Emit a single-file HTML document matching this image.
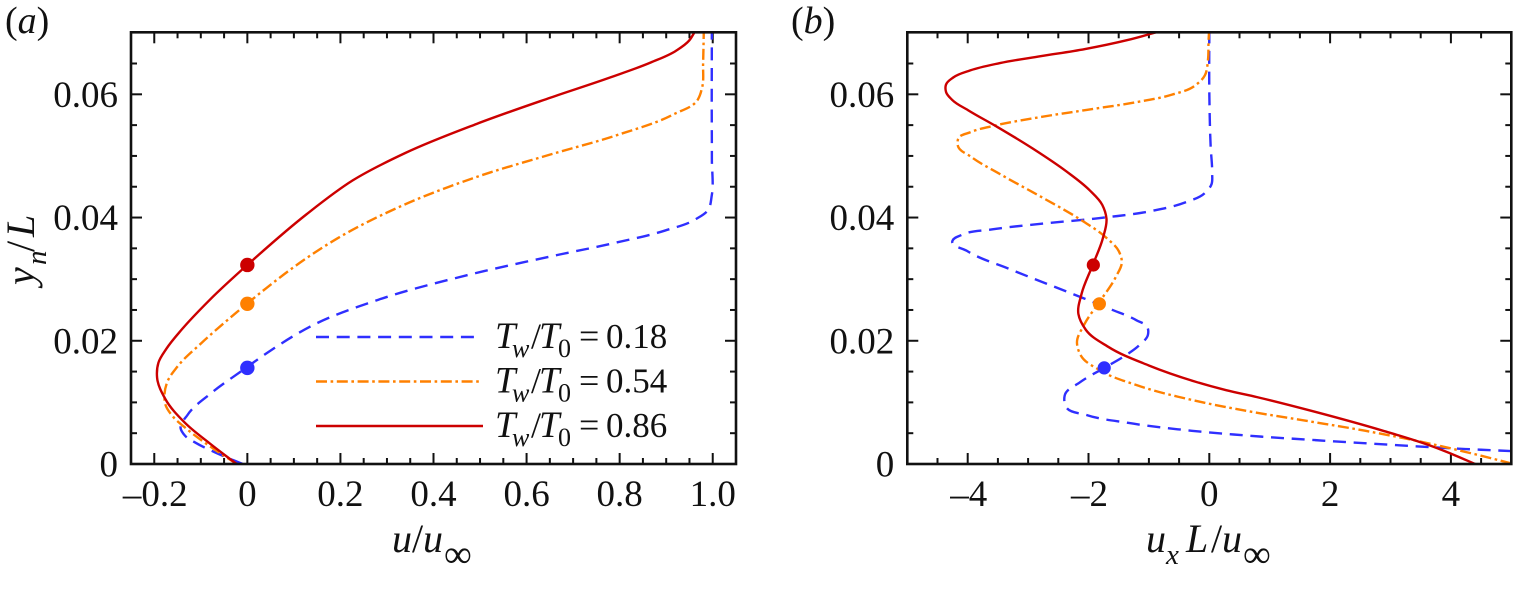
<!DOCTYPE html>
<html lang="en">
<head>
<meta charset="utf-8">
<title>Velocity profiles</title>
<style>
html,body{margin:0;padding:0;background:#fff;width:1513px;height:593px;overflow:hidden}
svg{display:block;font-family:"Liberation Serif","DejaVu Serif",serif;fill:#111}
text{fill:#111}
.i{font-style:italic}
</style>
</head>
<body>
<svg id="fig" xmlns="http://www.w3.org/2000/svg" width="1513" height="593" viewBox="0 0 1513 593">
  <defs>
    <clipPath id="clipA"><rect x="131" y="32" width="605" height="432"/></clipPath>
    <clipPath id="clipB"><rect x="907" y="32" width="604" height="432"/></clipPath>
  </defs>
  <g id="panelA"></g>
  <g id="panelB"></g>

  <text x="5" y="33" font-size="38">(<tspan class="i">a</tspan>)</text>
  <text x="791" y="33" font-size="38">(<tspan class="i">b</tspan>)</text>

  <g font-size="40" class="i">
    <text transform="translate(34,285) rotate(-90)">y</text>
    <text transform="translate(46,265) rotate(-90)" font-size="29">n</text>
    <text transform="translate(34,252) rotate(-90)" style="font-style:normal">/</text>
    <text transform="translate(34,237) rotate(-90)">L</text>
  </g>
  <g font-size="40">
    <text class="i" x="392" y="552">u</text>
    <text x="412" y="552">/</text>
    <text class="i" x="423" y="552">u</text>
    <text id="infA" x="444" y="567" font-size="39">∞</text>
  </g>
  <g font-size="40">
    <text class="i" x="1146" y="552">u</text>
    <text class="i" x="1166" y="564" font-size="29">x</text>
    <text class="i" x="1186" y="552">L</text>
    <text x="1211" y="552">/</text>
    <text class="i" x="1222" y="552">u</text>
    <text id="infB" x="1243" y="567" font-size="39">∞</text>
  </g>

  <g id="legend"></g>
</svg>
<script>
// ---- shared tick data ----
const yMajorTicks = [0, 0.02, 0.04, 0.06];
const yMajorLabels = ['0', '0.02', '0.04', '0.06'];
const yLimits = [0, 0.07];
const yMinorStep = 0.005;

// ---- panel (a) ----
const aXLimits = [-0.25, 1.05];
const aXMajorTicks = [-0.2, 0, 0.2, 0.4, 0.6, 0.8, 1.0];
const aXMajorLabels = ['–0.2', '0', '0.2', '0.4', '0.6', '0.8', '1.0'];
const aXMinorStep = 0.05;

const aBlueU = [-0.01,-0.074,-0.109,-0.133,-0.14,-0.133,-0.081,0,0.048,0.141,0.257,0.501,0.645,0.788,0.903,0.961,0.99,0.997,0.997,0.998,0.998,0.998];
const aBlueY = [0,0.002,0.0034,0.0047,0.0058,0.0077,0.0115,0.0156,0.018,0.0226,0.0263,0.0311,0.0336,0.0358,0.038,0.0397,0.0416,0.0437,0.0483,0.0592,0.069,0.071];
const aOrangeU = [-0.023,-0.081,-0.131,-0.163,-0.173,-0.178,-0.171,-0.145,-0.117,0,0.027,0.113,0.185,0.329,0.501,0.645,0.788,0.932,0.961,0.975,0.979,0.981];
const aOrangeY = [0,0.0028,0.0058,0.008,0.0093,0.0115,0.0134,0.0161,0.0185,0.026,0.0277,0.0325,0.0362,0.0421,0.0467,0.0502,0.0531,0.057,0.0594,0.061,0.0646,0.071];
const aRedU = [-0.023,-0.081,-0.131,-0.181,-0.192,-0.189,-0.174,-0.139,-0.081,0,0.149,0.221,0.329,0.501,0.645,0.788,0.86,0.925,0.947,0.964];
const aRedY = [0,0.0036,0.0063,0.0107,0.0142,0.0164,0.0187,0.0218,0.0267,0.0323,0.0418,0.0456,0.0502,0.0555,0.0592,0.063,0.0649,0.0673,0.0685,0.0705];
const aMarkerU = [0, 0, 0];
const aMarkerY = [0.0156, 0.026, 0.0323];

// ---- panel (b) ----
const bXLimits = [-5, 5];
const bXMajorTicks = [-4, -2, 0, 2, 4];
const bXMajorLabels = ['–4', '–2', '0', '2', '4'];
const bXMinorStep = 0.5;

const bBlueU = [5,4.2,3.1,1.72,0.51,-0.37,-1.37,-2.03,-2.36,-2.41,-2.14,-1.74,-1.42,-1.15,-1.02,-1.04,-1.2,-1.64,-2.31,-3.3,-4.07,-4.21,-4.07,-3.63,-2.75,-1.7,-1.04,-0.37,-0.07,0.01,0.06,0.01,0,0];
const bBlueY = [0.0021,0.0024,0.0031,0.0039,0.0047,0.0055,0.0067,0.008,0.0093,0.0111,0.0132,0.0156,0.0174,0.0193,0.0211,0.0221,0.0234,0.025,0.0279,0.0316,0.0348,0.0361,0.0372,0.038,0.0391,0.04,0.0409,0.0425,0.0441,0.0454,0.0478,0.0506,0.06,0.071];
const bOrangeU = [5,4.48,3.65,2.55,1.45,0.67,-0.15,-1.26,-1.81,-2.11,-2.18,-2.09,-1.82,-1.51,-1.47,-1.51,-1.7,-2.09,-2.8,-3.47,-3.96,-4.15,-4.14,-3.96,-3.52,-2.92,-1.98,-1.26,-0.6,-0.26,-0.07,-0.03,-0.02,0];
const bOrangeY = [0.0001,0.0013,0.0034,0.0055,0.0072,0.0086,0.0101,0.0128,0.0153,0.0177,0.0196,0.0226,0.026,0.031,0.0326,0.0345,0.0367,0.0394,0.0435,0.047,0.05,0.0516,0.0528,0.0538,0.055,0.0561,0.0576,0.0586,0.06,0.0613,0.0632,0.0652,0.0689,0.071];
const bRedU = [4.4,4.04,3.65,2.99,1.67,0.67,0.34,-0.15,-1.04,-1.7,-2.03,-2.15,-2.14,-1.92,-1.75,-1.71,-1.78,-1.98,-2.36,-2.91,-3.52,-4.02,-4.24,-4.35,-4.35,-4.24,-3.96,-3.47,-2.8,-2.03,-1.37,-0.72];
const bRedY = [0,0.0014,0.0031,0.005,0.0088,0.0111,0.0119,0.0131,0.0161,0.0191,0.0218,0.0245,0.0272,0.0323,0.037,0.0397,0.0421,0.0443,0.0475,0.0511,0.0548,0.0576,0.0589,0.0604,0.0616,0.0627,0.0638,0.0652,0.0661,0.0674,0.0687,0.0705];
const bMarkerU = [-1.74, -1.82, -1.92];
const bMarkerY = [0.0156, 0.026, 0.0323];

// ---- legend ----
const legendValues = ['0.18', '0.54', '0.86'];

// ---- styles ----
const BLUE = '#2f2fff', ORANGE = '#ff8000', RED = '#cc0000';
const DASH_BLUE = '13 7.7', DASH_ORANGE = '11 3.6 2.6 3.6';
const NS = 'http://www.w3.org/2000/svg';

function mk(tag, attrs, parent) {
  const el = document.createElementNS(NS, tag);
  for (const k in attrs) el.setAttribute(k, attrs[k]);
  parent.appendChild(el);
  return el;
}

// shrink-free noise removal (Taubin): a smoothing step followed by an inflating step
function relaxStep(pts, w) {
  return pts.map((p, i) => {
    if (i === 0 || i === pts.length - 1) return p;
    const a = pts[i - 1], b = pts[i + 1];
    return [p[0] + w * (0.5 * (a[0] + b[0]) - p[0]), p[1] + w * (0.5 * (a[1] + b[1]) - p[1])];
  });
}
function relax(pts) {
  let cur = pts;
  for (let it = 0; it < 2; it++) {
    cur = relaxStep(cur, 0.5);
    cur = relaxStep(cur, -0.53);
  }
  return cur;
}

function smoothPath(raw) {
  const pts = relax(raw);
  const n = pts.length;
  const tan = pts.map((p, i) => {
    if (i === 0 || i === n - 1) {
      const a = pts[i === 0 ? 0 : n - 2], b = pts[i === 0 ? 1 : n - 1];
      const l = Math.hypot(b[0] - a[0], b[1] - a[1]) || 1;
      return [(b[0] - a[0]) / l, (b[1] - a[1]) / l];
    }
    const a = pts[i - 1], b = pts[i + 1];
    const d1 = Math.hypot(p[0] - a[0], p[1] - a[1]) || 1, d2 = Math.hypot(b[0] - p[0], b[1] - p[1]) || 1;
    const tx = ((p[0] - a[0]) / d1) * d2 + ((b[0] - p[0]) / d2) * d1;
    const ty = ((p[1] - a[1]) / d1) * d2 + ((b[1] - p[1]) / d2) * d1;
    const l = Math.hypot(tx, ty) || 1;
    return [tx / l, ty / l];
  });
  let d = 'M' + pts[0][0].toFixed(2) + ' ' + pts[0][1].toFixed(2);
  for (let i = 0; i < n - 1; i++) {
    const p = pts[i], q = pts[i + 1], c = Math.hypot(q[0] - p[0], q[1] - p[1]) / 3;
    d += 'C' + (p[0] + tan[i][0] * c).toFixed(2) + ' ' + (p[1] + tan[i][1] * c).toFixed(2) + ' ' +
         (q[0] - tan[i + 1][0] * c).toFixed(2) + ' ' + (q[1] - tan[i + 1][1] * c).toFixed(2) + ' ' +
         q[0].toFixed(2) + ' ' + q[1].toFixed(2);
  }
  return d;
}

function drawPanel(cfg) {
  const g = document.getElementById(cfg.id);
  const L = cfg.box[0], R = cfg.box[1], T = 32.7, B = 464, FT = 32.3;
  const sx = v => L + (v - cfg.xLim[0]) / (cfg.xLim[1] - cfg.xLim[0]) * (R - L);
  const sy = v => B - (v - yLimits[0]) / (yLimits[1] - yLimits[0]) * (B - T);
  const tickStyle = { stroke: '#111', 'stroke-width': 2 };

  function tick(x1, y1, x2, y2, name) {
    const t = mk('line', Object.assign({ x1, y1, x2, y2 }, tickStyle), g);
    
    
  }
  const isMajor = (v, list) => list.some(m => Math.abs(m - v) < 1e-6);

  // x ticks (bottom and top), inward
  const xCount = Math.round((cfg.xLim[1] - cfg.xLim[0]) / cfg.xMinor);
  for (let i = 0; i <= xCount; i++) {
    const v = cfg.xLim[0] + i * cfg.xMinor;
    if (i === 0 || i === xCount) continue;
    const len = isMajor(v, cfg.xMajor) ? 11 : 6;
    tick(sx(v), B, sx(v), B - len, 'x-tick-bottom');
    tick(sx(v), FT, sx(v), FT + len, 'x-tick-top');
  }
  // y ticks (left and right), inward
  const yCount = Math.round((yLimits[1] - yLimits[0]) / yMinorStep);
  for (let i = 1; i <= yCount; i++) {
    const v = i * yMinorStep;
    if (i === yCount) continue;
    const len = isMajor(v, yMajorTicks) ? 11 : 6;
    tick(L, sy(v), L + len, sy(v), 'y-tick-left');
    tick(R, sy(v), R - len, sy(v), 'y-tick-right');
  }
  // tick labels
  cfg.xMajor.forEach((v, i) => {
    const t = mk('text', { x: sx(v) + (cfg.xLabels[i][0] === '–' ? 1 : 0), y: 506, 'font-size': 37, 'text-anchor': 'middle' }, g);
    t.textContent = cfg.xLabels[i];
    
    
  });
  yMajorTicks.forEach((v, i) => {
    const t = mk('text', { x: L - 13, y: sy(v) + 12.5, 'font-size': 37, 'text-anchor': 'end' }, g);
    t.textContent = yMajorLabels[i];
    
    
  });

  // series
  const plot = mk('g', { 'clip-path': 'url(#' + cfg.clip + ')', fill: 'none' }, g);
  
  
  cfg.series.forEach(s => {
    const pts = s.u.map((u, i) => [sx(u), sy(s.y[i])]);
    const attrs = { d: smoothPath(pts), fill: 'none', stroke: s.color, 'stroke-width': 2.4 };
    if (s.dash) attrs['stroke-dasharray'] = s.dash;
    const p = mk('path', attrs, plot);
    
    
  });
  // markers
  cfg.markerU.forEach((u, i) => {
    const c = mk('circle', { cx: sx(u), cy: sy(cfg.markerY[i]), r: cfg.r, fill: [BLUE, ORANGE, RED][i] }, g);
    
    
  });
  // frame
  const f = mk('rect', { x: L, y: FT, width: R - L, height: B - FT, fill: 'none', stroke: '#111', 'stroke-width': 2.6 }, g);
  
  
}

drawPanel({
  id: 'panelA', clip: 'clipA', box: [131, 736], xLim: aXLimits, xMajor: aXMajorTicks, xLabels: aXMajorLabels, xMinor: aXMinorStep,
  r: 7.2, markerU: aMarkerU, markerY: aMarkerY,
  series: [
    { name: 'curve-a-tw-0-18', u: aBlueU, y: aBlueY, color: BLUE, dash: DASH_BLUE },
    { name: 'curve-a-tw-0-54', u: aOrangeU, y: aOrangeY, color: ORANGE, dash: DASH_ORANGE },
    { name: 'curve-a-tw-0-86', u: aRedU, y: aRedY, color: RED }
  ]
});
drawPanel({
  id: 'panelB', clip: 'clipB', box: [907.3, 1511.3], xLim: bXLimits, xMajor: bXMajorTicks, xLabels: bXMajorLabels, xMinor: bXMinorStep,
  r: 6.6, markerU: bMarkerU, markerY: bMarkerY,
  series: [
    { name: 'curve-b-tw-0-18', u: bBlueU, y: bBlueY, color: BLUE, dash: DASH_BLUE },
    { name: 'curve-b-tw-0-54', u: bOrangeU, y: bOrangeY, color: ORANGE, dash: DASH_ORANGE },
    { name: 'curve-b-tw-0-86', u: bRedU, y: bRedY, color: RED }
  ]
});

// legend
(function () {
  const g = document.getElementById('legend');
  const ys = [337, 381.5, 426];
  const colors = [BLUE, ORANGE, RED];
  const dashes = [DASH_BLUE, DASH_ORANGE, null];
  const ends = [474, 480, 483];
  legendValues.forEach((val, i) => {
    const attrs = { x1: 316, x2: ends[i], y1: ys[i], y2: ys[i], stroke: colors[i], 'stroke-width': 2.4 };
    if (dashes[i]) attrs['stroke-dasharray'] = dashes[i];
    const ln = mk('line', attrs, g);
    
    

    const base = ys[i] + 11;
    const entry = mk('g', { 'font-size': 34 }, g);
    
    
    const parts = [
      ['T', 495, 0, 37, true], ['w', 512, 9, 26, true], ['/', 531, 0, 36, false],
      ['T', 539, 0, 37, true], ['0', 558, 9, 26, false], ['=', 579, 0, 36, false], [val, 606, 0, 35, false]
    ];
    parts.forEach(p => {
      const t = mk('text', { x: p[1], y: base + p[2], 'font-size': p[3] }, entry);
      if (p[4]) t.setAttribute('class', 'i');
      t.textContent = p[0];
    });
  });
})();
</script>
</body>
</html>
